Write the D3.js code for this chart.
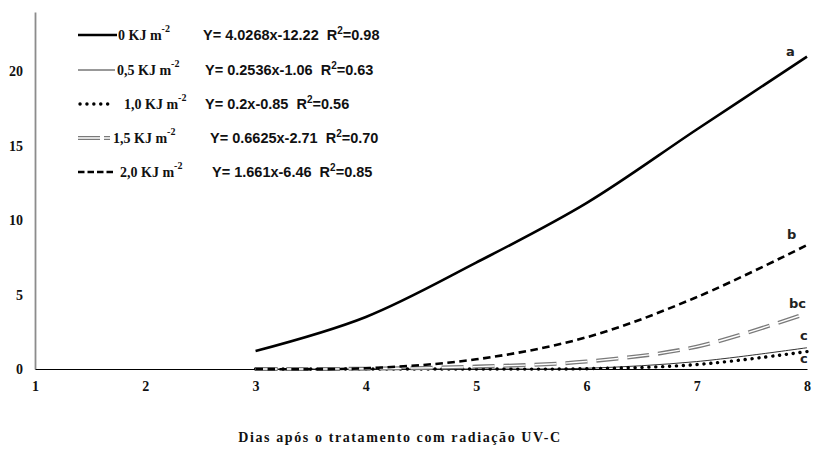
<!DOCTYPE html>
<html><head><meta charset="utf-8">
<script src="https://cdn.jsdelivr.net/npm/d3@7"></script>
<style>body{margin:0;background:#fff}svg{display:block}</style>
</head><body>
<svg id="c" width="822" height="452"></svg>
<script>
const days = [3, 4, 5, 6, 7, 8];
const xTicks = [1, 2, 3, 4, 5, 6, 7, 8];
const yTicks = [0, 5, 10, 15, 20];
const dose0  = [1.21, 3.5, 7.15, 11.15, 16.1, 21.0];
const dose05 = [0, 0, 0, 0.05, 0.5, 1.43];
const dose10 = [0, 0, 0, 0.02, 0.3, 1.17];
const dose15 = [0, 0.02, 0.16, 0.5, 1.5, 3.75];
const dose20 = [0, 0.05, 0.65, 2.13, 4.83, 8.33];
const doseNames = ["0 KJ m", "0,5 KJ m", "1,0 KJ m", "1,5 KJ m", "2,0 KJ m"];
const equations = ["Y= 4.0268x-12.22", "Y= 0.2536x-1.06", "Y= 0.2x-0.85", "Y= 0.6625x-2.71", "Y= 1.661x-6.46"];
const r2 = ["0.98", "0.63", "0.56", "0.70", "0.85"];
const letters = ["a", "bc", "c", "c", "b"];
const xTitle = "Dias após o tratamento com radiação UV-C";

const series = [dose0, dose05, dose10, dose15, dose20];

const svg = d3.select("#c");
const x = d3.scaleLinear().domain([1, 8]).range([35, 807]);
const y = d3.scaleLinear().domain([0, 24]).range([369, 12]);

const styles = [
  {stroke:"#000", w:2.6, dash:null, cap:"butt"},
  {stroke:"#333", w:1, dash:null, cap:"butt"},
  {stroke:"#000", w:3.4, dash:"0.1 6.8", cap:"round"},
  {stroke:"#7a7a7a", w:4, dash:"22 9", cap:"butt", inner:true},
  {stroke:"#000", w:2.6, dash:"7.5 4.5", cap:"butt"}
];

const yAxis = d3.axisLeft(y).tickValues(yTicks).tickSize(0).tickPadding(12);
const gy = svg.append("g").attr("transform","translate(35,0)").call(yAxis);
gy.select(".domain").attr("stroke","#8c8c8c").attr("stroke-width",1.8);
gy.selectAll("text").attr("font-family","'Liberation Serif', serif").attr("font-weight","bold").attr("font-size",14).attr("fill","#111");

const xAxis = d3.axisBottom(x).tickValues(xTicks).tickSize(0).tickPadding(12).tickFormat(d3.format("d"));
const gx = svg.append("g").attr("transform","translate(0,369)").call(xAxis);
gx.select(".domain").attr("stroke","#000").attr("stroke-width",1.2);
gx.selectAll("text").attr("font-family","'Liberation Serif', serif").attr("font-weight","bold").attr("font-size",14).attr("fill","#111");

const line = d3.line().x((d,i)=>x(days[i])).y(d=>y(d)).curve(d3.curveCatmullRom.alpha(0.5));
function drawPath(g, d, s){
  const p = g.append("path").attr("d", d).attr("fill","none")
    .attr("stroke", s.stroke).attr("stroke-width", s.w).attr("stroke-linecap", s.cap);
  if (s.dash) p.attr("stroke-dasharray", s.dash);
  if (s.inner) {
    g.append("path").attr("d", d).attr("fill","none").attr("stroke","#fff")
     .attr("stroke-width",1.4).attr("stroke-dasharray", s.dash);
  }
}
const drawOrder = [1, 2, 3, 4, 0];
drawOrder.forEach(i => drawPath(svg.append("g"), line(series[i]), styles[i]));

const letterFont = "'DejaVu Sans', sans-serif";
const letterPos = [[786, 56], [789, 308], [800, 340], [800, 363], [787, 239]];
letters.forEach((t,i)=>{
  svg.append("text").attr("x", letterPos[i][0]).attr("y", letterPos[i][1])
    .attr("font-family", letterFont).attr("font-weight","bold").attr("font-size",13).attr("fill","#222").text(t);
});

const rowsY = [35, 70, 104, 138, 172];
const sampleX = [[78,117],[78,115],[80,113],[78,110],[78,113]];
const nameX = [118, 117, 124, 113, 120];
const eqX = [203, 205, 205, 210, 212];
rowsY.forEach((ry,i)=>{
  const g = svg.append("g");
  const s = Object.assign({}, styles[i]);
  if (i===3) s.dash = "22 4";
  if (i===4) s.dash = "6.5 3";
  drawPath(g, `M${sampleX[i][0]},${ry}L${sampleX[i][1]},${ry}`, s);
  const t = g.append("text").attr("x", nameX[i]).attr("y", ry+5)
    .attr("font-family","'Liberation Serif', serif").attr("font-weight","bold").attr("font-size",14).attr("fill","#111");
  t.append("tspan").text(doseNames[i]);
  t.append("tspan").attr("dy",-8).attr("font-size",10).text("-2");
  const e = g.append("text").attr("x", eqX[i]).attr("y", ry+5)
    .attr("font-family","'Liberation Sans', Arial, sans-serif").attr("font-weight","bold").attr("font-size",14.5).attr("fill","#111")
    .attr("xml:space","preserve");
  e.append("tspan").text(equations[i] + "  R");
  e.append("tspan").attr("dy",-6).attr("font-size",10).text("2");
  e.append("tspan").attr("dy",6).text("=" + r2[i]);
});

svg.append("text").attr("x", 400).attr("y", 442).attr("text-anchor","middle")
  .attr("font-family","'Liberation Serif', serif").attr("font-weight","bold").attr("font-size",14)
  .attr("letter-spacing",1.6).attr("fill","#111").text(xTitle);
</script>
</body></html>
